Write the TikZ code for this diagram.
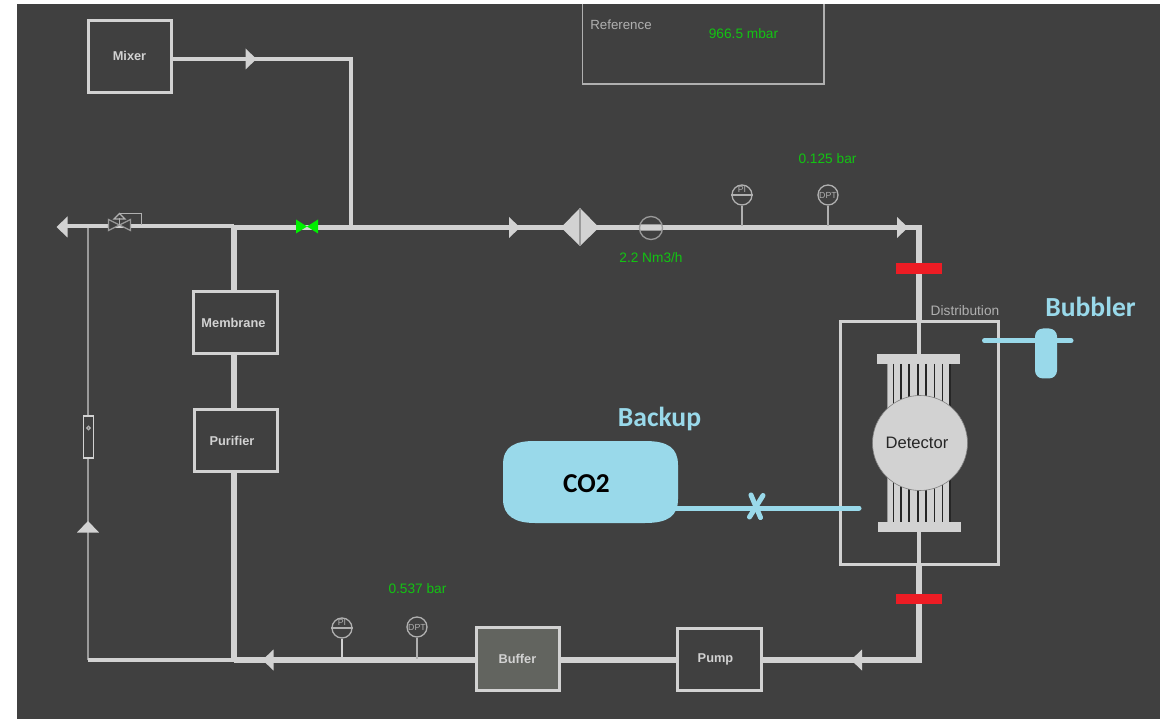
\documentclass[tikz,border=0pt]{standalone}
\usepackage{fontspec}
\usetikzlibrary{shapes.geometric}
\setmainfont{Liberation Sans}
\newfontfamily\calib{Carlito}
\definecolor{bgd}{HTML}{404040}
\definecolor{pipec}{HTML}{D2D2D2}
\definecolor{thinc}{HTML}{9A9A9A}
\definecolor{instc}{HTML}{B0B0B0}
\definecolor{aqua}{HTML}{99D9EA}
\definecolor{readc}{HTML}{12C412}
\definecolor{brightg}{HTML}{00F000}
\definecolor{redc}{HTML}{ED1C24}
\definecolor{buff}{HTML}{62645F}
\newcommand{\arrowR}[2]{\fill[pipec] (#1-5.5,#2-10.5) -- (#1+5.5,#2) -- (#1-5.5,#2+10.5) -- cycle;}
\newcommand{\arrowL}[2]{\fill[pipec] (#1+5.5,#2-10.5) -- (#1-5.5,#2) -- (#1+5.5,#2+10.5) -- cycle;}
\tikzset{
  x=1pt,y=-1pt,
  pipe/.style={draw=pipec,line width=5.2pt},
  pipemix/.style={draw=pipec,line width=4pt},
  pipethin/.style={draw=pipec,line width=3.4pt},
  bleed/.style={draw=thinc,line width=2pt},
  stem/.style={draw=instc,line width=1.6pt},
  unit/.style={draw=pipec,line width=3pt,rectangle,inner sep=0pt,
     text=pipec,font=\fontsize{12.8}{14}\selectfont\bfseries},
  reading/.style={text=readc,inner sep=0pt,font=\fontsize{13.7}{15}\selectfont},
  plain/.style={text=instc,inner sep=0pt,font=\fontsize{13.3}{15}\selectfont},
  gauge/.style={circle,draw=instc,line width=1.3pt,fill=bgd,inner sep=0pt,minimum size=20pt},
  gaugetxt/.style={text=instc,inner sep=0pt,font=\fontsize{8.8}{9}\selectfont},
  aquatxt/.style={text=aqua,inner sep=0pt,font=\calib\bfseries\fontsize{27.6}{30}\selectfont},
  aqualine/.style={draw=aqua,line width=5pt,line cap=round},
  header/.style={rectangle,fill=pipec,draw=none,inner sep=0pt,minimum width=83pt,minimum height=10pt},
  redbar/.style={rectangle,fill=redc,draw=none,inner sep=0pt,minimum width=46pt,minimum height=10.5pt},
}
\begin{document}
\begin{tikzpicture}
\useasboundingbox (0,0) rectangle (1168,719);
\fill[white] (0,0) rectangle (1168,719);
\fill[bgd] (17,4) rectangle (1160,719);

% coordinates
\coordinate (mixc) at (351,59);
\coordinate (mixj) at (351,227.5);
\coordinate (ventend) at (62,226);
\coordinate (tee) at (234,227.5);
\coordinate (teeV) at (234,226);
\coordinate (cornerTR) at (919,227.5);
\coordinate (cornerBR) at (919,660);
\coordinate (teeB) at (234,660);
\coordinate (bleedB) at (88,660);
\coordinate (bleedT) at (88,226);
\coordinate (refTL) at (582.5,4);
\coordinate (refBL) at (582.5,84);
\coordinate (refBR) at (824,84);
\coordinate (refTR) at (824,4);

% Reference box
\draw[instc,line width=1.4pt] (refTL) -- (refBL) -- (refBR) -- (refTR);
\node[plain] (reflabel) at (621,24.5) {Reference};
\node[reading] (refval) at (743.5,33.5) {966.5 mbar};

% unit boxes
\node[unit,minimum width=83pt,minimum height=72pt] (mixer) at (129.5,57) {\raisebox{2pt}{Mixer}};
\node[unit,minimum width=84pt,minimum height=62pt] (membrane) at (235,323) {\hspace*{-3pt}Membrane};
\node[unit,minimum width=83pt,minimum height=62pt] (purifier) at (235.5,440.5) {\hspace*{-7pt}Purifier};
\node[unit,minimum width=83pt,minimum height=63pt,fill=buff] (buffer) at (517.5,658.5) {Buffer};
\node[unit,minimum width=84pt,minimum height=62pt] (pump) at (719,659) {\hspace*{-7pt}\raisebox{2pt}{Pump}};

% bleed line and rotameter
\draw[bleed] (bleedT) -- (bleedB);
\node[draw=pipec,fill=bgd,line width=1.2pt,minimum width=10.5pt,minimum height=42pt,inner sep=0pt] (rota) at (88.5,437) {};
\draw[instc,line width=1.3pt] (88.5,428) circle (1.8);
\fill[pipec] (88,521) -- (99,532.5) -- (77,532.5) -- cycle;

% distribution box
\node[draw=pipec,line width=3pt,rectangle,inner sep=0pt,minimum width=158pt,minimum height=243pt] (dist) at (919.5,443) {};
\node[plain,font=\fontsize{13.7}{15}\selectfont] (distlabel) at (965,310.5) {Distribution};

% pipes
\draw[pipemix] (mixer.east |- mixc) -- (mixc) -- (mixj);
\draw[pipe] (tee) -- (cornerTR) -- (dist.north -| cornerTR);
\draw[pipe] (tee) -- (tee |- membrane.north);
\draw[pipe] (membrane.south -| tee) -- (purifier.north -| tee);
\draw[pipe] (purifier.south -| tee) -- (teeB);
\draw[pipethin] (teeV) -- (ventend);
\draw[pipethin] (teeB) -- (bleedB);
\draw[pipe] (teeB) -- (buffer.west |- teeB);
\draw[pipe] (buffer.east |- teeB) -- (pump.west |- teeB);
\draw[pipe] (pump.east |- teeB) -- (cornerBR) -- (dist.south -| cornerBR);

% vent valve
\draw[instc,line width=1pt] (119.5,213.5) -- (141,213.5) -- (141,225);
\draw[thinc,fill=bgd,line width=1.3pt] (108.5,219.5) -- (130.5,230.5) -- (130.5,219.5) -- (108.5,230.5) -- cycle;
\draw[instc,line width=1.2pt] (119.5,218) -- (119.5,225);
\draw[instc,line width=1.2pt] (114,219) -- (119.5,213.5) -- (125,219) -- cycle;

% green valve
\fill[brightg] (296,219.5) -- (318,233.5) -- (318,219.5) -- (296,233.5) -- cycle;

% flow arrows
\arrowL{62}{227}
\arrowR{251}{59}
\arrowR{514.5}{227.5}
\arrowR{902.5}{227.5}
\arrowL{268}{660}
\arrowL{856.5}{660}

% filter
\fill[pipec] (561,227.5) -- (580,208) -- (599,227.5) -- (580,246) -- cycle;
\draw[thinc,line width=1.3pt] (580,208) -- (580,246);

% flow meter
\draw[thinc,line width=1.3pt] (651,228) circle (11.5);
\draw[thinc,line width=1pt] (640,224.7) -- (662,224.7) (640,231) -- (662,231);

% gauges top
\coordinate (piT) at (742,226);
\coordinate (dptT) at (828,226);
\node[gauge] (piTg) at (742,195) {};
\node[gauge] (dptTg) at (828,195) {};
\draw[stem] (piTg.south) -- (piT);
\draw[stem] (dptTg.south) -- (dptT);
\draw[instc,line width=1.1pt] (piTg.west) -- (piTg.east);
\node[gaugetxt] (piTt) at (742,189.5) {PI};
\node[gaugetxt] (dptTt) at (828,195) {DPT};

% gauges bottom
\coordinate (piB) at (342,659);
\coordinate (dptB) at (417,659);
\node[gauge] (piBg) at (342,628) {};
\node[gauge] (dptBg) at (417,627) {};
\draw[draw=pipec,line width=1.6pt] (piBg.south) -- (piB);
\draw[stem] (dptBg.south) -- (dptB);
\draw[instc,line width=1.1pt] (piBg.west) -- (piBg.east);
\node[gaugetxt] (piBt) at (342,622.5) {PI};
\node[gaugetxt] (dptBt) at (417,627) {DPT};

% readings
\node[reading] (r1) at (827.5,158.5) {0.125 bar};
\node[reading] (r2) at (651,257.5) {2.2 Nm3/h};
\node[reading] (r3) at (417.5,589) {0.537 bar};

% detector
\node[header] (headT) at (918.5,359) {};
\node[header] (headB) at (919,527) {};
\draw[draw=pipec,line width=3.5pt] (dist.north -| cornerTR) -- (headT.north -| cornerTR);
\draw[draw=pipec,line width=3.5pt] (headB.south -| cornerBR) -- (dist.south -| cornerBR);
\fill[pipec] (887.5,364) rectangle (950,522);
\foreach \tx in {893.5,901,909,918,926,934.5,942.5,950}
  \draw[black!85,line width=1.1pt] (\tx,364) -- (\tx,522);
\draw[thinc,line width=0.8pt] (887.5,364) -- (887.5,522);
\node[circle,fill=pipec,draw=gray,line width=0.6pt,inner sep=0pt,minimum size=95pt,text=black!85,
  font=\fontsize{16.6}{18}\selectfont] (det) at (920,443) {\hspace*{-6pt}Detector};

% red bars
\node[redbar] (redT) at (919,268.5) {};
\node[redbar] (redB) at (919,599) {};

% bubbler
\coordinate (bubL) at (984.5,340.7);
\coordinate (bubR) at (1071,340.7);
\draw[aqualine] (bubL) -- (bubR);
\node[rectangle,rounded corners=8pt,fill=aqua,inner sep=0pt,minimum width=22pt,minimum height=50pt] (bub) at (1046,353.5) {};
\node[aquatxt] (bubtxt) at (1090.5,306.5) {Bubbler};

% CO2
\node[aquatxt] (backup) at (659.5,419) {Backup};
\coordinate (co2end) at (670,508);
\coordinate (backupend) at (859,508);
\draw[aqualine] (co2end) -- (backupend);
\fill[aqua] (503,465) .. controls (503,446) and (515,441) .. (535,441) -- (645,441)
  .. controls (668,441) and (678,448) .. (678,465) -- (678,499)
  .. controls (678,516) and (668,523) .. (645,523) -- (535,523)
  .. controls (515,523) and (503,516) .. (503,499) -- cycle;
\node[inner sep=0pt,text=black,font=\calib\bfseries\fontsize{27.3}{30}\selectfont] (co2) at (586.5,484) {CO2};
\draw[aqua,line width=5pt,line cap=round] (751,495) -- (760.5,517.5);
\draw[aqua,line width=5pt,line cap=round] (763,495.5) -- (749.5,517);
\end{tikzpicture}
\end{document}
